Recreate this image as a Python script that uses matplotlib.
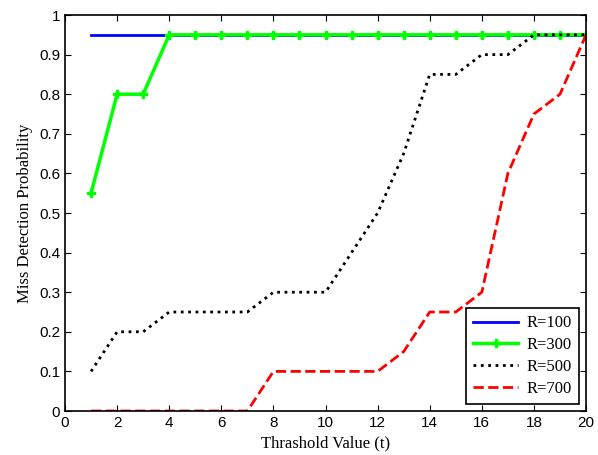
import numpy as np
import matplotlib.pyplot as plt

t = np.arange(1, 21)
r100 = [0.95] * 20
r300 = [0.55, 0.8, 0.8] + [0.95] * 17
r500 = [0.1, 0.2, 0.2, 0.25, 0.25, 0.25, 0.25, 0.3, 0.3, 0.3,
        0.4, 0.5, 0.65, 0.85, 0.85, 0.9, 0.9, 0.95, 0.95, 0.95]
r700 = [0, 0, 0, 0, 0, 0, 0, 0.1, 0.1, 0.1,
        0.1, 0.1, 0.15, 0.25, 0.25, 0.3, 0.6, 0.75, 0.8, 0.95]

fig = plt.figure(figsize=(5.98, 4.55), dpi=100)
ax = fig.add_axes([0.1087, 0.0967, 0.8713, 0.8703])

ax.plot(t, r100, color='#0000ff', lw=2, label='R=100')
ax.plot(t, r300, color='#00ff00', lw=2.5, marker='P', ms=6, label='R=300')
ax.plot(t, r500, color='black', lw=2, ls=':', label='R=500')
ax.plot(t, r700, color='#ff0000', lw=2, ls='--', label='R=700')

ax.set_xlim(0, 20)
ax.set_ylim(0, 1)
ax.set_xticks(range(0, 21, 2))
ax.set_yticks(np.arange(0, 1.01, 0.1))
ax.set_yticklabels(['0', '0.1', '0.2', '0.3', '0.4', '0.5', '0.6', '0.7', '0.8', '0.9', '1'])
ax.tick_params(direction='in', top=True, right=True, labelsize=11, length=4)
for lab in ax.get_xticklabels() + ax.get_yticklabels():
    lab.set_fontfamily('Liberation Sans')
for s in ax.spines.values():
    s.set_linewidth(1.2)

ax.set_xlabel('Thrashold Value (t)', fontfamily='Liberation Serif', fontsize=12)
ax.set_ylabel('Miss Detection Probability', fontfamily='Liberation Serif', fontsize=12)

leg = ax.legend(loc='lower right', prop={'family': 'Liberation Serif', 'size': 12},
                fancybox=False, edgecolor='black', framealpha=1,
                handlelength=2.7, handletextpad=0.5, borderaxespad=0.4,
                labelspacing=0.35, borderpad=0.45)
leg.get_frame().set_linewidth(1.2)

fig.savefig('out.png', dpi=100)
